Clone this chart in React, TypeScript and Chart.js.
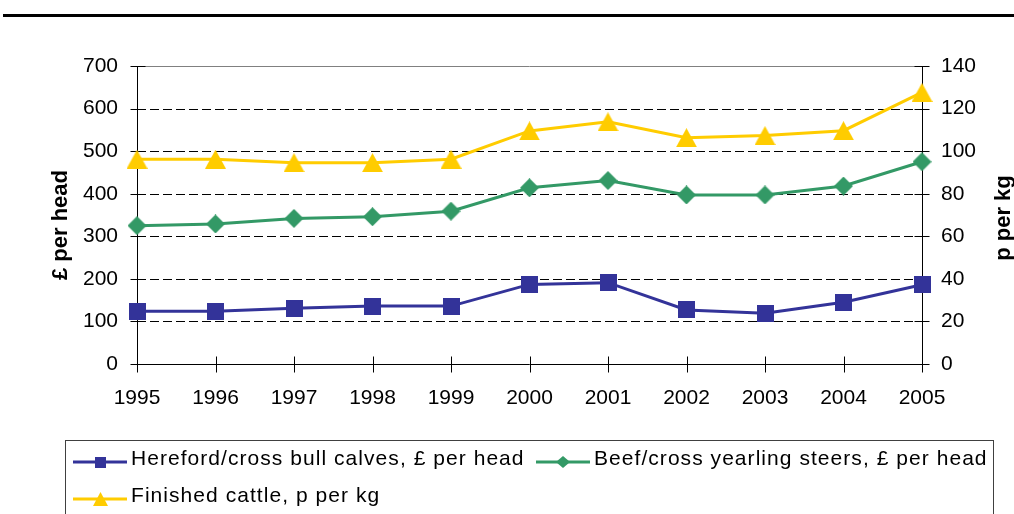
import React, { useEffect, useRef } from 'react';
import { Chart, registerables } from 'chart.js';

Chart.register(...registerables);

// Cattle prices, 1995-2005
const years = ['1995', '1996', '1997', '1998', '1999', '2000', '2001', '2002', '2003', '2004', '2005'];
const herefordCalves = [124, 124, 131, 136, 136, 187, 191, 127, 119, 145, 186];
const beefSteers = [325, 329, 342, 346, 359, 414, 431, 397, 397, 418, 475];
const finishedCattle = [96.2, 96.2, 94.6, 94.6, 96.2, 109.5, 113.8, 106.3, 107.3, 109.6, 127.6];

const leftTicks = [0, 100, 200, 300, 400, 500, 600, 700];
const rightTicks = [0, 20, 40, 60, 80, 100, 120, 140];

const seriesLabels = [
  'Hereford/cross bull calves, £ per head',
  'Beef/cross yearling steers, £ per head',
  'Finished cattle, p per kg',
];
const leftTitle = '£ per head';
const rightTitle = 'p per kg';

const NAVY = '#333399';
const GREEN = '#339966';
const GOLD = '#FFCC00';
const FONT = '"Liberation Sans", Arial, sans-serif';

type Shape = 'square' | 'diamond' | 'triangle';

// Marker sprites centred on their bounding box
function marker(shape: Shape, color: string, w: number, h: number): HTMLCanvasElement {
  const c = document.createElement('canvas');
  c.width = w;
  c.height = h;
  const g = c.getContext('2d')!;
  g.fillStyle = color;
  g.beginPath();
  if (shape === 'square') {
    g.rect(0, 0, w, h);
  } else if (shape === 'diamond') {
    g.moveTo(w / 2, 0);
    g.lineTo(w, h / 2);
    g.lineTo(w / 2, h);
    g.lineTo(0, h / 2);
  } else {
    g.moveTo(w / 2, 0);
    g.lineTo(w, h);
    g.lineTo(0, h);
  }
  g.closePath();
  g.fill();
  return c;
}

export default function App() {
  const ref = useRef<HTMLCanvasElement | null>(null);

  useEffect(() => {
    const canvas = ref.current;
    if (!canvas) return;

    const squareM = marker('square', NAVY, 17, 17);
    const diamondM = marker('diamond', GREEN, 19, 19);
    const triangleM = marker('triangle', GOLD, 21, 19);

    const legendItems = [
      { label: seriesLabels[0], color: NAVY, m: marker('square', NAVY, 11, 11), x: 73, y: 459 },
      { label: seriesLabels[1], color: GREEN, m: marker('diamond', GREEN, 14, 12), x: 536, y: 459 },
      { label: seriesLabels[2], color: GOLD, m: marker('triangle', GOLD, 15, 14), x: 73, y: 496 },
    ];

    const frame = {
      id: 'frame',
      beforeDatasetsDraw(chart: any) {
        const { ctx, chartArea: a, scales } = chart;
        const yL = scales.yL;
        const yR = scales.yR;
        const x = scales.x;
        ctx.save();
        // dashed gridlines
        ctx.strokeStyle = '#000';
        ctx.lineWidth = 1;
        ctx.setLineDash([9, 4]);
        for (const v of leftTicks) {
          if (v === 0 || v === 700) continue;
          const y = Math.round(yL.getPixelForValue(v)) + 0.5;
          ctx.beginPath();
          ctx.moveTo(a.left, y);
          ctx.lineTo(a.right, y);
          ctx.stroke();
        }
        ctx.setLineDash([]);
        // plot-area top border
        const yTop = Math.round(yL.getPixelForValue(700)) + 0.5;
        ctx.strokeStyle = '#808080';
        ctx.beginPath();
        ctx.moveTo(a.left, yTop);
        ctx.lineTo(a.right, yTop);
        ctx.stroke();
        // axis lines
        ctx.strokeStyle = '#000';
        const xl = Math.round(a.left) + 0.5;
        const xr = Math.round(a.right) + 0.5;
        const yb = Math.round(a.bottom) + 0.5;
        ctx.beginPath();
        ctx.moveTo(xl, a.top);
        ctx.lineTo(xl, a.bottom);
        ctx.moveTo(xr, a.top);
        ctx.lineTo(xr, a.bottom);
        ctx.moveTo(a.left, yb);
        ctx.lineTo(a.right, yb);
        ctx.stroke();
        // tick marks crossing the axes
        ctx.beginPath();
        for (const v of leftTicks) {
          const y = Math.round(yL.getPixelForValue(v)) + 0.5;
          ctx.moveTo(xl - 7, y);
          ctx.lineTo(xl + 8, y);
        }
        for (const v of rightTicks) {
          const y = Math.round(yR.getPixelForValue(v)) + 0.5;
          ctx.moveTo(xr - 8, y);
          ctx.lineTo(xr + 7, y);
        }
        years.forEach((_, i) => {
          const px = Math.round(x.getPixelForValue(i)) + 0.5;
          ctx.moveTo(px, yb - 8);
          ctx.lineTo(px, yb + 8);
        });
        ctx.stroke();
        ctx.restore();
      },
      afterDraw(chart: any) {
        const { ctx } = chart;
        ctx.save();
        // rule across the top
        ctx.fillStyle = '#000';
        ctx.fillRect(3, 14, 1011, 3);

        // axis titles
        ctx.font = `bold 22px ${FONT}`;
        ctx.textAlign = 'center';
        ctx.textBaseline = 'middle';
        ctx.save();
        ctx.translate(61, 225);
        ctx.rotate(-Math.PI / 2);
        ctx.fillText(leftTitle, 0, 0);
        ctx.restore();
        ctx.save();
        ctx.translate(1004, 218);
        ctx.rotate(-Math.PI / 2);
        ctx.fillText(rightTitle, 0, 0);
        ctx.restore();

        // legend box
        ctx.strokeStyle = '#404040';
        ctx.lineWidth = 1;
        ctx.strokeRect(65.5, 440.5, 928, 100);
        ctx.textAlign = 'left';
        ctx.font = `21px ${FONT}`;
        (ctx as any).letterSpacing = '1.05px';
        for (const it of legendItems) {
          const ly = it.y + 3;
          ctx.strokeStyle = it.color;
          ctx.lineWidth = 3;
          ctx.beginPath();
          ctx.moveTo(it.x, ly);
          ctx.lineTo(it.x + 54, ly);
          ctx.stroke();
          ctx.drawImage(it.m, Math.round(it.x + 27 - it.m.width / 2), Math.round(ly - it.m.height / 2));
          ctx.fillStyle = '#000';
          ctx.fillText(it.label, it.x + 58, it.y);
        }
        ctx.restore();
      },
    };

    const chart = new Chart(canvas, {
      type: 'line',
      data: {
        labels: years,
        datasets: [
          {
            label: seriesLabels[0],
            data: herefordCalves,
            yAxisID: 'yL',
            borderColor: NAVY,
            backgroundColor: NAVY,
            borderWidth: 3,
            pointStyle: squareM as any,
            pointRadius: 9,
            tension: 0,
          },
          {
            label: seriesLabels[1],
            data: beefSteers,
            yAxisID: 'yL',
            borderColor: GREEN,
            backgroundColor: GREEN,
            borderWidth: 3,
            pointStyle: diamondM as any,
            pointRadius: 10,
            tension: 0,
          },
          {
            label: seriesLabels[2],
            data: finishedCattle,
            yAxisID: 'yR',
            borderColor: GOLD,
            backgroundColor: GOLD,
            borderWidth: 3,
            pointStyle: triangleM as any,
            pointRadius: 11,
            tension: 0,
          },
        ],
      },
      options: {
        responsive: false,
        animation: false,
        devicePixelRatio: 1,
        layout: { padding: { top: 66, bottom: 100, left: 0, right: 0 } },
        plugins: { legend: { display: false }, tooltip: { enabled: false } },
        scales: {
          x: {
            type: 'category',
            offset: false,
            grid: { display: false, drawTicks: false },
            border: { display: false },
            ticks: { color: '#000', font: { size: 21, family: FONT }, padding: 22, maxRotation: 0, autoSkip: false },
            afterFit: (s: any) => { s.height = 50; },
          },
          yL: {
            type: 'linear',
            position: 'left',
            min: 0,
            max: 700,
            grid: { display: false, drawTicks: false },
            border: { display: false },
            ticks: { stepSize: 100, color: '#000', font: { size: 21, family: FONT }, padding: 19 },
            afterFit: (s: any) => { s.width = 137; },
          },
          yR: {
            type: 'linear',
            position: 'right',
            min: 0,
            max: 140,
            grid: { display: false, drawTicks: false },
            border: { display: false },
            ticks: { stepSize: 20, color: '#000', font: { size: 21, family: FONT }, padding: 19 },
            afterFit: (s: any) => { s.width = 92; },
          },
        },
      },
      plugins: [frame],
    });

    return () => chart.destroy();
  }, []);

  return (
    <div style={{ position: 'absolute', left: 0, top: 0, width: 1014, height: 514, background: '#fff' }}>
      <canvas ref={ref} width={1014} height={514} style={{ display: 'block' }} />
    </div>
  );
}
